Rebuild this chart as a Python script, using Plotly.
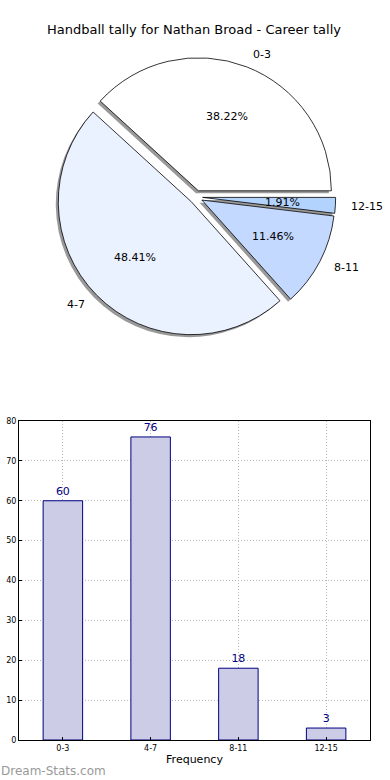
import numpy as np
import plotly.graph_objects as go

# ---- data ----
categories = ["0-3", "4-7", "8-11", "12-15"]
counts = [60, 76, 18, 3]
pie_colors = ["#FFFFFF", "#EBF2FF", "#C4D9FF", "#B3D3FF"]
title_text = "Handball tally for Nathan Broad - Career tally"
y_ticks = [0, 10, 20, 30, 40, 50, 60, 70, 80]

W, H = 390, 780
FONT = "DejaVu Sans"

def px(x):
    return x / W

def py(y):
    return 1 - y / H

# pie geometry (pixels)
cx, cy = 196, 197
R = 133
pull = 0.05
D = 2 * R * (1 + pull)
total = sum(counts)
# plotly (counterclockwise) puts the first slice clockwise from `rotation`;
# we want it to start at 3 o'clock and go counterclockwise (matplotlib style)
rot = 90 - counts[0] / total * 360

def dom(cx_, cy_):
    return dict(x=[px(cx_ - D / 2), px(cx_ + D / 2)],
                y=[py(cy_ + D / 2), py(cy_ - D / 2)])

fig = go.Figure()

# shadow pie
fig.add_trace(go.Pie(
    labels=categories, values=counts, sort=False, direction="counterclockwise",
    rotation=rot, pull=[pull] * 4, textinfo="none", hoverinfo="skip",
    marker=dict(colors=["rgba(70,70,70,0.55)"] * 4, line=dict(width=0)),
    domain=dom(cx - 2.5, cy + 2.5), showlegend=False,
))
# main pie
fig.add_trace(go.Pie(
    labels=categories, values=counts, sort=False, direction="counterclockwise",
    rotation=rot, pull=[pull] * 4, textinfo="none",
    marker=dict(colors=pie_colors, line=dict(color="black", width=0.8)),
    domain=dom(cx, cy), showlegend=False,
))

# pie texts computed from the data (matplotlib-style placement)
annotations = []
start = 0.0
for cat, v in zip(categories, counts):
    frac = v / total
    mid = np.deg2rad(start + frac * 180)
    start += frac * 360
    e = pull * R
    dx, dy = np.cos(mid), np.sin(mid)
    r1 = e + 0.6 * R
    annotations.append(dict(
        x=px(cx + r1 * dx), y=py(cy - r1 * dy), xref="paper", yref="paper",
        text=f"{frac*100:.2f}%", showarrow=False, xanchor="center", yanchor="middle",
        font=dict(family=FONT, size=11, color="black")))
    r2 = e + 1.1 * R
    annotations.append(dict(
        x=px(cx + r2 * dx), y=py(cy - r2 * dy), xref="paper", yref="paper",
        text=cat, showarrow=False, xanchor="left" if dx >= 0 else "right",
        yanchor="middle", font=dict(family=FONT, size=11, color="black")))

# bar chart
fig.add_trace(go.Bar(
    x=categories, y=counts, width=0.45,
    marker=dict(color="#CCCCE6", line=dict(color="#000080", width=1)),
    text=[str(c) for c in counts], textposition="outside", cliponaxis=False,
    textfont=dict(family=FONT, size=11, color="#000080"),
    xaxis="x", yaxis="y", showlegend=False,
))

annotations.append(dict(
    x=px(194), y=py(30), xref="paper", yref="paper", text=title_text,
    showarrow=False, xanchor="center", yanchor="middle",
    font=dict(family=FONT, size=13, color="black")))
annotations.append(dict(
    x=px(-1), y=py(771), xref="paper", yref="paper", text="Dream-Stats.com",
    showarrow=False, xanchor="left", yanchor="middle",
    font=dict(family=FONT, size=12, color="#999999")))

grid = dict(showgrid=True, gridcolor="#b8b8b8", griddash="1px,2px", gridwidth=1)
fig.update_layout(
    template="none",
    width=W, height=H, margin=dict(l=0, r=0, t=0, b=0, pad=0, autoexpand=False),
    paper_bgcolor="white", plot_bgcolor="white",
    font=dict(family=FONT, color="black"),
    annotations=annotations,
    xaxis=dict(domain=[px(19), px(370)], range=[-0.5, 3.5], type="category",
               automargin=False,
               showline=True, linecolor="black", linewidth=1, mirror=True,
               ticks="inside", ticklen=3, tickcolor="black",
               tickfont=dict(family=FONT, size=8, color="black"),
               title=dict(text="Frequency", font=dict(family=FONT, size=11), standoff=3),
               zeroline=False, fixedrange=True, **grid),
    yaxis=dict(domain=[py(740), py(421)], range=[0, 80], tickvals=y_ticks,
               automargin=False,
               showline=True, linecolor="black", linewidth=1, mirror=True,
               ticks="inside", ticklen=3, tickcolor="black",
               tickfont=dict(family=FONT, size=8, color="black"),
               zeroline=False, fixedrange=True, **grid),
)

fig.write_html(
    "out.html",
    config={"displayModeBar": False, "staticPlot": True},
    post_script=(
        "document.documentElement.style.margin='0';"
        "document.documentElement.style.overflow='hidden';"
        "document.body.style.margin='0';"
        "document.body.style.overflow='hidden';"
        "document.body.style.height='780px';"
    ),
)
